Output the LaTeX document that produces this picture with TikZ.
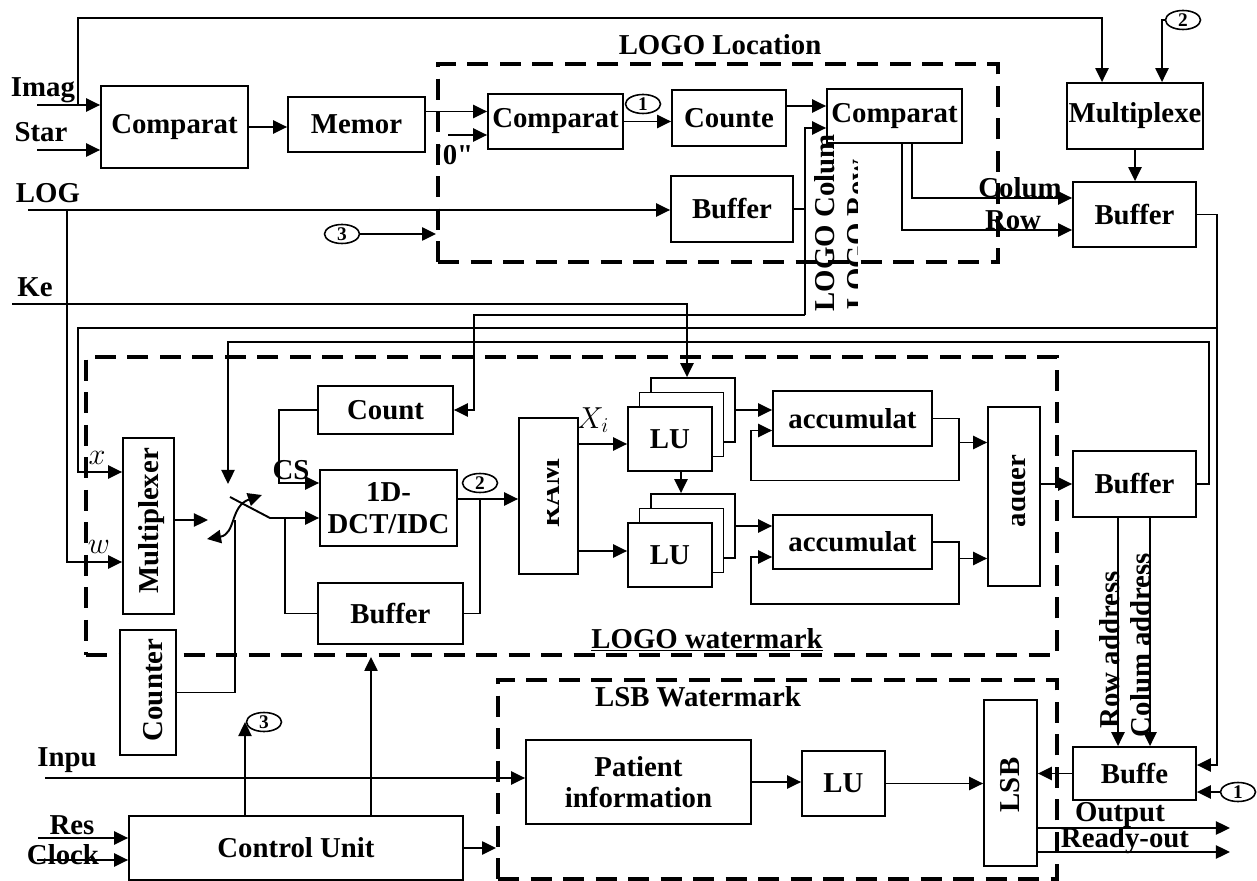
\documentclass[tikz,border=0pt]{standalone}
\usepackage{fontspec}
\setmainfont{Liberation Serif}
\usetikzlibrary{arrows.meta,calc,shapes.geometric}

\tikzset{
  blk/.style={draw, line width=1pt, fill=white, inner sep=0pt, align=center,
    font=\fontsize{16.4}{18}\selectfont\bfseries},
  sz/.style 2 args={minimum width=#1*0.02cm, minimum height=#2*0.02cm},
  grp/.style={draw, line width=2.2pt, dash pattern=on 12pt off 6.5pt, inner sep=0pt},
  lbl/.style={inner sep=0pt, font=\fontsize{16.4}{18}\selectfont\bfseries},
  num/.style={draw, ellipse, line width=0.9pt, fill=white, inner sep=0pt,
    minimum width=0.7cm, minimum height=0.38cm, font=\fontsize{11}{11}\selectfont\bfseries},
  wire/.style={line width=1.1pt},
  arr/.style={wire, -{Triangle[length=8pt,width=7.5pt]}},
  darr/.style={wire, {Triangle[length=8pt,width=7.5pt]}-{Triangle[length=8pt,width=7.5pt]}},
}

\begin{document}
\begin{tikzpicture}[x=0.02cm, y=-0.02cm]

    \useasboundingbox (0,0) rectangle (1257,881);

    % 1. Riquadri tratteggiati
    \node[grp, sz={560}{198}] (locbox) at (718,163) {};
    \node[grp, sz={971}{298}] (wmbox) at (571.5,506) {};
    \node[grp, sz={559}{199}] (lsbbox) at (777.5,779.5) {};

    % 2. Blocchi della parte alta
    \node[blk, sz={147}{82}] (cmpA) at (174.5,127) {Comparat};
    \node[blk, sz={137}{55}] (memor) at (356.5,124.5) {Memor};
    \node[blk, sz={135}{55}] (cmpB) at (555.5,121.5) {Comparat};
    \node[blk, sz={114}{56}] (counte) at (729,118) {Counte};
    \node[blk, sz={135}{54}] (cmpC) at (894.5,116) {Comparat};
    \node[blk, sz={122}{66}] (bufA) at (732,209) {Buffer};
    \node[blk, sz={136}{66}] (mux) at (1135,116) {Multiplexe};
    \node[blk, sz={123}{65}] (bufB) at (1134.5,214.5) {Buffer};

    % 3. Blocchi del LOGO watermark
    \node[blk, sz={51}{176}] (muxV) at (148.5,526) {};
    \node[lbl, rotate=90] (tMux) at (152,521) {Multiplexer};
    \node[blk, sz={135}{48}] (count) at (385.5,410) {Count};
    \node[blk, sz={137}{76}] (dct) at (388.5,508) {1D-\\DCT/IDC};
    \node[blk, sz={145}{61}] (bufC) at (390.5,613.5) {Buffer};
    \node[blk, sz={59}{156}] (ram) at (548.5,496) {};
    \node[blk, sz={84}{64}] (lu1c) at (693,410) {};
    \node[blk, sz={84}{64}] (lu1b) at (681.5,424.5) {};
    \node[blk, sz={84}{64}] (lu1) at (670,439) {LU};
    \node[blk, sz={84}{64}] (lu2c) at (693,526) {};
    \node[blk, sz={84}{64}] (lu2b) at (681.5,540.5) {};
    \node[blk, sz={84}{64}] (lu2) at (670,555) {LU};
    \node[blk, sz={159}{55}] (acc1) at (852.5,418.5) {accumulat};
    \node[blk, sz={159}{54}] (acc2) at (852.5,542) {accumulat};
    \node[blk, sz={52}{179}] (adder) at (1014,496.5) {};
    \node[blk, sz={123}{66}] (bufD) at (1134.5,484) {Buffer};
    \node[blk, sz={56}{125}] (counter) at (148,692.5) {};
    \node[lbl, rotate=90] (tCnt) at (153,690) {Counter};

    % testi ruotati e tagliati come nell'originale
    \begin{scope}
        \clip (547,418) rectangle (578,574);
        \node[lbl, rotate=90] (tRam) at (550,493) {RAM};
    \end{scope}
    \begin{scope}
        \clip (1012,407) rectangle (1040,586);
        \node[lbl, rotate=90] (tAdd) at (1016,491) {adder};
    \end{scope}

    % 4. Blocchi della parte bassa
    \node[blk, sz={225}{84}] (patient) at (638.5,782) {Patient\\information};
    \node[blk, sz={83}{65}] (lu3) at (843.5,783.5) {LU};
    \node[blk, sz={53}{166}] (lsb) at (1010.5,783) {};
    \node[lbl, rotate=90] (tLsb) at (1010,785) {LSB};
    \node[blk, sz={123}{53}] (buffe) at (1134.5,773.5) {Buffe};
    \node[blk, sz={334}{64}] (ctrl) at (296,848) {Control Unit};

    % 5. Cerchietti numerati
    \node[num] (n1a) at (643,104) {1};
    \node[num] (n2a) at (1183,20) {2};
    \node[num] (n3a) at (342,234) {3};
    \node[num] (n2b) at (480,483) {2};
    \node[num] (n3b) at (264,722) {3};
    \node[num] (n1b) at (1238,792) {1};

    % 6. Etichette
    \node[lbl] (tLoc) at (720,45) {LOGO Location};
    \node[lbl] (tWm) at (707,640) {\underline{LOGO watermark}};
    \node[lbl] (tLsbW) at (698,697) {LSB Watermark};
    \node[lbl] (tImag) at (43,90) {Imag};
    \node[lbl] (tStar) at (41,132) {Star};
    \node[lbl] (tLog) at (48,193) {LOG};
    \node[lbl] (tKe) at (35,287) {Ke};
    \node[lbl] (tInp) at (67,760) {Inpu};
    \node[lbl] (tRes) at (72,825) {Res};
    \node[lbl] (tClk) at (63,855) {Clock};
    \node[lbl] (tZero) at (454,155) {\textquotesingle0\textquotedbl};
    \node[lbl] (tCol) at (1020,188) {Colum};
    \node[lbl] (tRow) at (1013,220) {Row};
    \node[lbl] (tCS) at (291,470) {CS};
    \node[lbl] (tXi) at (593,420) {$X_i$};
    \node[lbl] (tx) at (97,458) {$x$};
    \node[lbl] (tw) at (99,547) {$w$};
    \node[lbl] (tOut) at (1120,815) {Output};
    \node[lbl] (tRdy) at (1125,841) {Ready-out};
    \node[lbl, rotate=90] (tRowA) at (1110,650) {Row address};
    \node[lbl, rotate=90] (tColA) at (1141,645) {Colum address};
    \node[lbl, rotate=90] (tLCol) at (825,223) {LOGO Colum};
    \begin{scope}
        \clip (835,150) rectangle (857,310);
        \node[lbl, rotate=90] (tLRow) at (857,235) {LOGO Row};
    \end{scope}

    % 7. Collegamenti della parte alta
    \coordinate (imagIn) at (37,105);
    \coordinate (tapA) at (78,105);
    \coordinate (topL) at (78,18);
    \coordinate (starIn) at (37,150);
    \coordinate (zeroIn) at (448,135);
    \draw[arr] (imagIn) -- (imagIn -| cmpA.west);
    \draw[arr] (tapA) -- (topL) -| ($(mux.north)+(-33,0)$);
    \draw[arr] (starIn) -- (starIn -| cmpA.west);
    \draw[arr] (cmpA.east) -- (cmpA.east -| memor.west);
    \draw[arr] ($(memor.east)+(0,-13)$) coordinate (m1) -- (m1 -| cmpB.west);
    \draw[arr] (zeroIn) -- (zeroIn -| cmpB.west);
    \draw[arr] (cmpB.east) -- (cmpB.east -| counte.west);
    \draw[arr] ($(counte.east)+(0,-12)$) coordinate (k1) -- (k1 -| cmpC.west);
    \draw[arr] (n2a.west) -| ($(mux.north)+(27,0)$);
    \draw[arr] (mux.south) -- (mux.south |- bufB.north);
    \draw[arr] ($(cmpC.south)+(17.5,0)$) |- ($(bufB.west)+(0,-16.5)$);
    \draw[arr] ($(cmpC.south)+(7.5,0)$) |- ($(bufB.west)+(0,15.5)$);

    % 8. LOG, Ke e posizione del LOGO
    \coordinate (logIn) at (28,210);
    \coordinate (logTap) at (67,210);
    \coordinate (keIn) at (12,304);
    \coordinate (vcol) at (805,315);
    \draw[arr] (logIn) -- (logIn -| bufA.west);
    \draw[arr] (logTap) |- ($(muxV.west)+(0,36)$);
    \draw[arr] (n3a.east) -- (n3a.east -| locbox.west);
    \draw[wire] (bufA.east) -- (bufA.east -| vcol);
    \draw[arr] (vcol) |- ($(cmpC.west)+(0,12)$);
    \draw[arr] (vcol) -| ($(count.east)+(20,0)$) -- (count.east);
    \draw[arr] (keIn) -| ($(lu1c.north)+(-6,0)$);

    % 9. Anelli di ritorno dai buffer
    \coordinate (vr) at (1217,328);
    \coordinate (xl) at (78,328);
    \coordinate (swTop) at (228,484);
    \draw[arr] (bufB.east) -| (vr) |- ($(buffe.east)+(0,-8.5)$);
    \draw[arr] (vr) -- (xl) |- ($(muxV.west)+(0,-54)$);
    \draw[arr] (bufD.east) -- ++(12,0) |- ($(swTop)+(0,-142)$) -- (swTop);

    % 10. Commutatore
    \coordinate (swIn) at (208,520);
    \coordinate (swA) at (230,497);
    \coordinate (swB) at (270,518);
    \coordinate (swJ) at (285,518);
    \coordinate (swC) at (235,520);
    \coordinate (swL) at (207,539);
    \coordinate (swR) at (262,495);
    \draw[arr] ($(muxV.east)+(0,-6)$) -- (swIn);
    \draw[arr] (swA) -- (swB) -- ($(dct.west)+(0,10)$);
    \draw[wire] (swJ) |- (bufC.west);
    \draw[darr] (swL) .. controls (236,534) and (230,506) .. (swR);
    \draw[wire] (counter.east) -| (swC);

    % 11. DCT, RAM, LU, accumulatori
    \coordinate (dj) at (480,499);
    \coordinate (r1) at ($(lu1.west)+(0,5)$);
    \coordinate (r2) at ($(lu2.west)+(0,-4)$);
    \draw[arr] (count.west) -- ++(-38,0) |- ($(dct.west)+(0,-25)$);
    \draw[arr] ($(dct.east)+(0,-9)$) coordinate (d1) -- (d1 -| ram.west);
    \draw[wire] (dj) |- (bufC.east);
    \draw[arr] (r1 -| ram.east) -- (r1);
    \draw[arr] (r2 -| ram.east) -- (r2);
    \draw[arr] ($(lu1.south)+(11,0)$) -- ($(lu2c.north)+(-12,0)$);
    \draw[arr] (lu1c.east) -- (lu1c.east -| acc1.west);
    \draw[arr] (lu2c.east) -- (lu2c.east -| acc2.west);
    \draw[arr] (acc1.east) -- ++(26,0) coordinate (a1j) -- ++(0,62)
        -| ($(acc1.west)+(-21,12)$) -- ($(acc1.west)+(0,12)$);
    \draw[arr] (acc2.east) -- ++(26,0) coordinate (a2j) -- ++(0,62)
        -| ($(acc2.west)+(-21,15)$) -- ($(acc2.west)+(0,15)$);
    \coordinate (ad1) at ($(adder.west)+(0,-54)$);
    \coordinate (ad2) at ($(adder.west)+(0,62)$);
    \draw[arr] (a1j |- ad1) -- (ad1);
    \draw[arr] (a2j |- ad2) -- (ad2);
    \draw[arr] (adder.east |- bufD.west) -- (bufD.west);
    \draw[arr] ($(bufD.south)+(-16.5,0)$) coordinate (b1) -- (b1 |- buffe.north);
    \draw[arr] ($(bufD.south)+(15.5,0)$) coordinate (b2) -- (b2 |- buffe.north);

    % 12. LSB watermark e unita' di controllo
    \coordinate (outE) at (1230,828);
    \coordinate (rdyE) at (1230,852);
    \coordinate (inpIn) at (45,778);
    \coordinate (resIn) at (38,838);
    \coordinate (clkIn) at (37,860);
    \coordinate (cu1) at ($(ctrl.north)+(-51,0)$);
    \coordinate (cu2) at ($(ctrl.north)+(75,0)$);
    \draw[arr] (n1b.west) -- (n1b.west -| buffe.east);
    \draw[arr] (buffe.west) -- (buffe.west -| lsb.east);
    \draw[arr] (outE -| lsb.east) -- (outE);
    \draw[arr] (rdyE -| lsb.east) -- (rdyE);
    \draw[arr] (inpIn) -- (inpIn -| patient.west);
    \draw[arr] (patient.east) -- (patient.east -| lu3.west);
    \draw[arr] (lu3.east) -- (lu3.east -| lsb.west);
    \draw[arr] (resIn) -- (resIn -| ctrl.west);
    \draw[arr] (clkIn) -- (clkIn -| ctrl.west);
    \draw[arr] (ctrl.east) -- (ctrl.east -| lsbbox.west);
    \draw[arr] (cu1) -- (cu1 |- n3b.center);
    \draw[arr] (cu2) -- (cu2 |- wmbox.south);

\end{tikzpicture}
\end{document}
